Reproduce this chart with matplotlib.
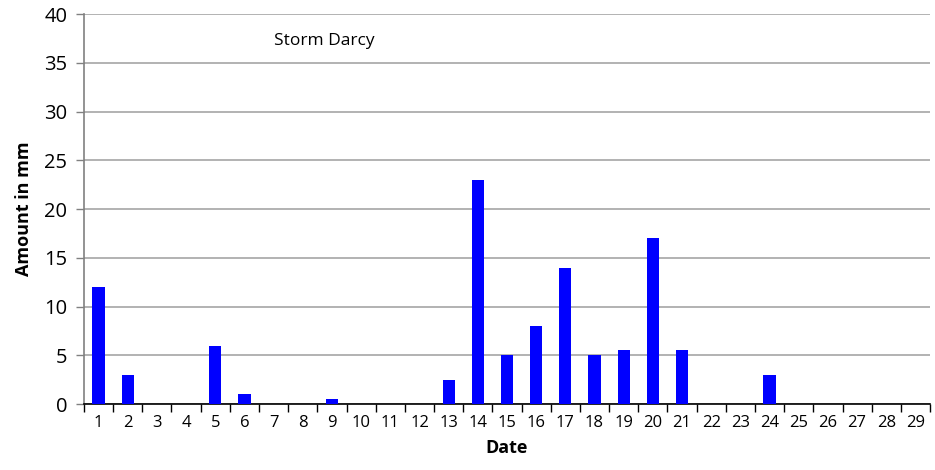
import matplotlib
matplotlib.use("Agg")
import matplotlib.pyplot as plt
from matplotlib.ticker import FixedLocator, NullFormatter

dates = list(range(1, 30))
amounts = [12, 3, 0, 0, 6, 1, 0, 0, 0.5, 0, 0, 0, 2.5, 23, 5, 8, 14, 5, 5.5, 17, 5.5, 0, 0, 3, 0, 0, 0, 0, 0]
yticks = [0, 5, 10, 15, 20, 25, 30, 35, 40]

plt.rcParams['font.family'] = ['Open Sans', 'DejaVu Sans']

fig = plt.figure(figsize=(9.35, 4.7), dpi=100)
ax = fig.add_axes([0.0898, 0.1404, 0.9049, 0.8296])

ax.bar(dates, amounts, width=0.42, color='#0000ff', zorder=3)
ax.set_xlim(0.5, 29.5)
ax.set_ylim(0, 40)
ax.set_yticks(yticks)
ax.yaxis.grid(True, color='#a6a6a6', linewidth=1.2, zorder=0)
ax.set_axisbelow(True)

ax.set_xticks(dates)
ax.set_xticklabels([str(d) for d in dates], fontsize=12)
ax.tick_params(axis='x', length=0, pad=8)
ax.xaxis.set_minor_locator(FixedLocator([d + 0.5 for d in range(0, 30)]))
ax.xaxis.set_minor_formatter(NullFormatter())
ax.tick_params(axis='x', which='minor', length=6, width=1, color='black', direction='out')
ax.tick_params(axis='y', length=6, width=1, color='#808080', labelsize=14.5, pad=6)

for s in ['top', 'right']:
    ax.spines[s].set_visible(False)
ax.spines['left'].set_color('#808080')
ax.spines['left'].set_linewidth(1.2)
ax.spines['bottom'].set_color('black')
ax.spines['bottom'].set_linewidth(1.2)

ax.set_xlabel('Date', fontsize=13, fontweight='bold', labelpad=6)
ax.set_ylabel('Amount in mm', fontsize=13, fontweight='bold', labelpad=8)
ax.text(8.75, 37.2, 'Storm Darcy', fontsize=12.5, ha='center', va='center')

fig.savefig('out.png', dpi=100)
